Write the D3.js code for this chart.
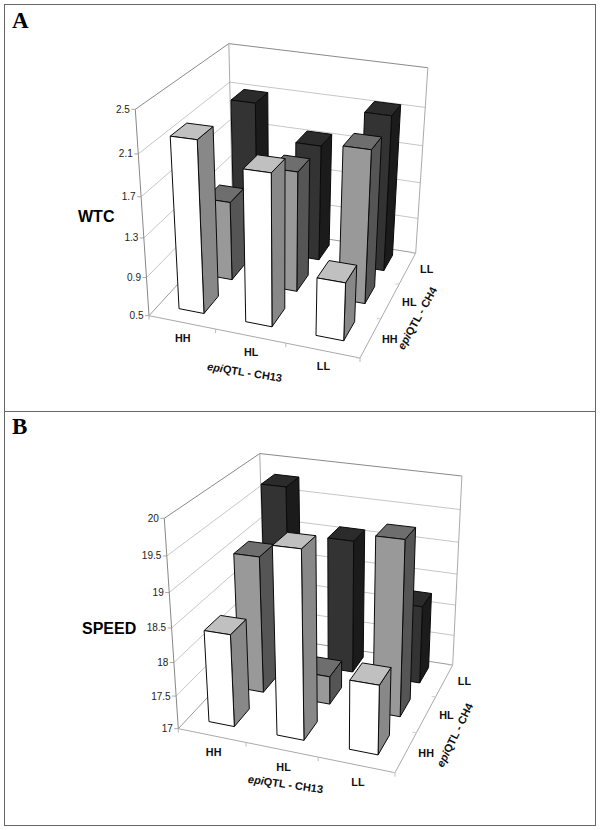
<!DOCTYPE html>
<html><head><meta charset="utf-8">
<style>html,body{margin:0;padding:0;background:#fff}svg{display:block}</style>
<script src="https://d3js.org/d3.v7.min.js"></script></head>
<body><svg id="c" width="600" height="830"></svg>
<script>
const levels = ["HH","HL","LL"];
const wtcTicks = [0.5,0.9,1.3,1.7,2.1,2.5];
const speedTicks = [17,17.5,18,18.5,19,19.5,20];
const wtcHH = [2.21,2.0,1.08];
const wtcHL = [1.33,1.74,2.05];
const wtcLL = [2.09,1.74,2.14];
const speedHH = [18.37,19.68,18.0];
const speedHL = [19.08,17.43,19.58];
const speedLL = [19.77,19.08,18.22];
const faceFront = ["#ffffff","#999999","#333333"];
const faceSide = ["#888888","#555555","#1b1b1b"];
const faceTop = ["#c0c0c0","#6e6e6e","#2b2b2b"];

const svg = d3.select("#c");
svg.append("rect").attr("x",4.5).attr("y",4.5).attr("width",591).attr("height",407).attr("fill","none").attr("stroke","#666");
svg.append("rect").attr("x",4.5).attr("y",411.5).attr("width",591).attr("height",414).attr("fill","none").attr("stroke","#666");

function panel(cfg){
  const g = svg.append("g");
  const [O,X,Y,Z,B] = [cfg.O,cfg.X,cfg.Y,cfg.Z,cfg.B];
  const a1=X[0]-B[0],b1=Y[0]-B[0],c1=O[0]-B[0],a2=X[1]-B[1],b2=Y[1]-B[1],c2=O[1]-B[1];
  const det=a1*b2-a2*b1, wx=(c1*b2-c2*b1)/det, wy=(a1*c2-a2*c1)/det, wz=cfg.wz;
  const P=(x,y,zz)=>{
    const z=zz*(1-cfg.kc*x*y);
    const w=1+(wx-1)*x+(wy-1)*y+(wz-1)*z;
    return [0,1].map(i=>(O[i]+x*(wx*X[i]-O[i])+y*(wy*Y[i]-O[i])+z*(wz*Z[i]-O[i]))/w);
  };
  const zS=d3.scaleLinear().domain(d3.extent(cfg.ticks)).range([0,1]);
  const xS=d3.scaleBand().domain(levels).range([0,1]).paddingInner(cfg.px).paddingOuter(cfg.px/2);
  const yS=d3.scaleBand().domain(levels).range([0,1]).paddingInner(cfg.py).paddingOuter(cfg.py/2).align(.62);
  const line=d3.line();
  const stroke=(pts,c,w=1)=>g.append("path").attr("d",line(pts)).attr("fill","none").attr("stroke",c).attr("stroke-width",w);
  cfg.ticks.forEach((t,i)=>{
    const z=zS(t), top=i===cfg.ticks.length-1, c=top?"#8a8a8a":(i===0?"#9a9a9a":"#c6c6c6");
    stroke([P(0,0,z),P(0,1,z),P(1,1,z)],c);
    const p=P(0,0,z);
    stroke([[p[0]-4,p[1]],p],"#aaa");
    g.append("text").attr("x",p[0]-5.5).attr("y",p[1]+3.5).attr("text-anchor","end")
      .attr("font-family","Liberation Sans").attr("font-size",10).attr("fill","#222").text(t);
  });
  stroke([P(0,0,0),P(0,0,1)],"#888");
  stroke([P(0,1,0),P(0,1,1)],"#aaa");
  stroke([P(1,1,0),P(1,1,1)],"#aaa");
  stroke([P(0,0,0),P(1,0,0),P(1,1,0)],"#aaa");
  [0,1/3,2/3,1].forEach(f=>{
    const a=P(f,0,0); stroke([a,[a[0],a[1]+4]],"#bbb");
    const b=P(1,f,0); stroke([b,[b[0]-4,b[1]]],"#ccc");
  });
  const rows=cfg.rows;
  [2,1,0].forEach(r=>{
    levels.forEach((lv,k)=>{
      const x0=xS(lv),x1=x0+xS.bandwidth(),y0=yS(levels[r]),y1=y0+yS.bandwidth(),z=zS(rows[r][k]);
      const poly=(pts,f)=>g.append("path").attr("d",line(pts)+"Z").attr("fill",f).attr("stroke","#0a0a0a").attr("stroke-width",1).attr("stroke-linejoin","round");
      poly([P(x1,y0,0),P(x1,y1,0),P(x1,y1,z),P(x1,y0,z)],faceSide[r]);
      poly([P(x0,y0,z),P(x1,y0,z),P(x1,y1,z),P(x0,y1,z)],faceTop[r]);
      poly([P(x0,y0,0),P(x1,y0,0),P(x1,y0,z),P(x0,y0,z)],faceFront[r]);
    });
  });
  const lab=(x,y,t)=>g.append("text").attr("x",x).attr("y",y).attr("text-anchor","middle")
     .attr("font-family","Liberation Sans").attr("font-weight","bold").attr("font-size",10.8).attr("fill","#111").text(t);
  levels.forEach((lv,k)=>{
    const a=P((k+.5)/3,0,0), b=P(1,(k+.5)/3,0);
    lab(a[0]+cfg.xOff[0],a[1]+cfg.xOff[1],lv);
    lab(b[0]+cfg.yOff[0],b[1]+cfg.yOff[1],lv);
  });
  const title=(pos,rot,tail)=>{
    const t=g.append("text").attr("transform",`translate(${pos[0]},${pos[1]}) rotate(${rot})`).attr("text-anchor","middle")
      .attr("font-family","Liberation Sans").attr("font-weight","bold").attr("font-size",11).attr("fill","#111");
    t.append("tspan").attr("font-style","italic").text("epi");
    t.append("tspan").text(tail);
  };
  title(cfg.xTitle,cfg.xRot,"QTL - CH13");
  title(cfg.yTitle,cfg.yRot,"QTL - CH4");
  g.append("text").attr("x",cfg.yLab[0]).attr("y",cfg.yLab[1]).attr("font-family","Liberation Sans").attr("font-weight","bold").attr("font-size",16).attr("fill","#000").text(cfg.name);
  g.append("text").attr("x",cfg.letter[0]).attr("y",cfg.letter[1]).attr("font-family","Liberation Serif").attr("font-weight","bold").attr("font-size",23).attr("fill","#000").text(cfg.tag);
}

panel({tag:"A",letter:[12,27.5],name:"WTC",yLab:[78,222],ticks:wtcTicks,rows:[wtcHH,wtcHL,wtcLL],
  O:[149,315.7],X:[360,358],Y:[233,224],Z:[135.3,109.3],B:[415.7,253],wz:.906,kc:.03,px:.62,py:.5,
  xOff:[1,20],yOff:[19,5],xTitle:[244,376],xRot:9,yTitle:[420.7,320],yRot:-61});
panel({tag:"B",letter:[12,434],name:"SPEED",yLab:[82,634],ticks:speedTicks,rows:[speedHH,speedHL,speedLL],
  O:[178.3,728.7],X:[395,772.7],Y:[265,636],Z:[164.3,518.3],B:[452.7,665],wz:.918,kc:.035,px:.62,py:.5,
  xOff:[2,21],yOff:[20,5],xTitle:[285,788],xRot:8,yTitle:[458.3,736.7],yRot:-64});
</script></body></html>
